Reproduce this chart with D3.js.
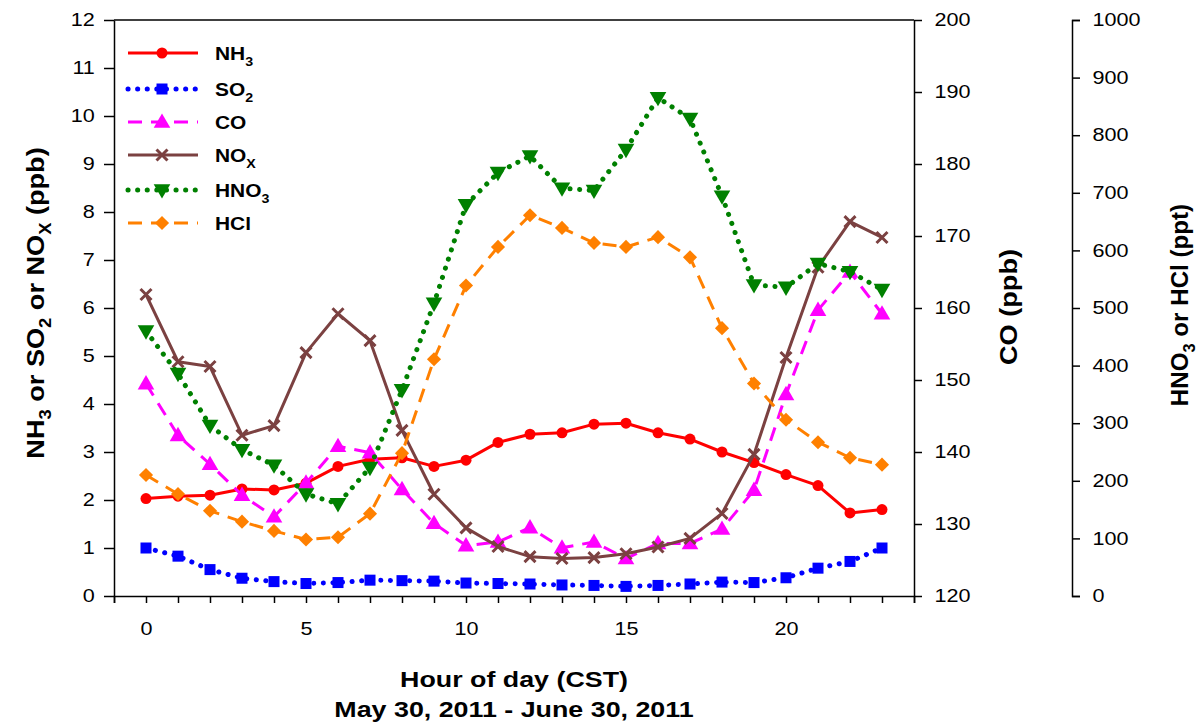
<!DOCTYPE html>
<html>
<head>
<meta charset="utf-8">
<script src="https://cdn.jsdelivr.net/npm/d3@7"></script>
<style>
  body { margin: 0; background: #fff; }
  svg { font-family: Arial, "Liberation Sans", sans-serif; }
  .axis text { font-size: 18px; fill: #000; }
  .axis path, .axis line { stroke: #000; stroke-width: 1.5px; }
</style>
</head>
<body>
<div id="chart"></div>
<script>
// data ---------------------------------------------------------------
var hours = d3.range(0, 24);
var nh3  = [2.03, 2.08, 2.10, 2.23, 2.21, 2.35, 2.70, 2.85, 2.88, 2.70, 2.83, 3.20, 3.37, 3.40, 3.58, 3.60, 3.40, 3.27, 3.00, 2.78, 2.53, 2.30, 1.73, 1.80];
var so2  = [1.00, 0.83, 0.55, 0.37, 0.30, 0.26, 0.28, 0.33, 0.32, 0.31, 0.27, 0.26, 0.25, 0.23, 0.22, 0.20, 0.22, 0.25, 0.29, 0.28, 0.38, 0.58, 0.72, 1.00];
var co   = [149.5, 142.3, 138.3, 134.0, 131.0, 135.7, 140.8, 139.9, 134.8, 130.1, 127.0, 127.5, 129.5, 126.7, 127.5, 125.2, 127.3, 127.3, 129.3, 134.7, 148.0, 159.7, 165.0, 159.2];
var nox  = [6.28, 4.88, 4.78, 3.35, 3.55, 5.07, 5.88, 5.32, 3.45, 2.12, 1.42, 1.03, 0.82, 0.78, 0.80, 0.88, 1.02, 1.20, 1.72, 2.95, 4.97, 6.85, 7.80, 7.47];
var hno3 = [460, 386, 296, 254, 227, 177, 160, 223, 358, 508, 679, 735, 764, 708, 704, 775, 865, 829, 694, 540, 536, 577, 563, 532];
var hcl  = [210, 177, 148, 129, 113, 98, 102, 143, 248, 411, 539, 606, 661, 639, 613, 606, 623, 588, 465, 369, 306, 267, 240, 228];

var xTickLabels = [0, 5, 10, 15, 20];
//---------------------------------------------------------------------

var W = 1201, H = 725;
var plot = { left: 114, right: 914, top: 20, bottom: 596 };
var axis3X = 1072;
var sx = 1.2; // the original's lettering is a bit wider than Arial

var x = d3.scaleLinear().domain([-1, 24]).range([plot.left, plot.right]);
var yL = d3.scaleLinear().domain([0, 12]).range([plot.bottom, plot.top]);
var yCO = d3.scaleLinear().domain([120, 200]).range([plot.bottom, plot.top]);
var yR = d3.scaleLinear().domain([0, 1000]).range([plot.bottom, plot.top]);

var series = [
  { name: [["NH", 0], ["3", 1]], vals: nh3, y: yL, color: "#ff0000", dash: null, width: 3, marker: "circle" },
  { name: [["SO", 0], ["2", 1]], vals: so2, y: yL, color: "#0000ff", dash: "0.1 9.5", width: 5, marker: "square" },
  { name: [["CO", 0]], vals: co, y: yCO, color: "#ff00ff", dash: "14 9", width: 3, marker: "triUp" },
  { name: [["NO", 0], ["X", 1]], vals: nox, y: yL, color: "#7b4141", dash: null, width: 3, marker: "x" },
  { name: [["HNO", 0], ["3", 1]], vals: hno3, y: yR, color: "#008000", dash: "0.1 9.5", width: 5, marker: "triDown" },
  { name: [["HCl", 0]], vals: hcl, y: yR, color: "#ff8000", dash: "14 9", width: 3, marker: "diamond" }
];

var svg = d3.select("#chart").append("svg")
  .attr("width", W).attr("height", H);

// writes text pieces with subscripts into a text element
var writeParts = function(textSel, parts, size) {
  parts.forEach(function(p, i) {
    var t = textSel.append("tspan").text(p[0]);
    if (p[1]) {
      t.attr("font-size", size * 0.68).attr("dy", size * 0.3);
    } else if (i > 0 && parts[i - 1][1]) {
      t.attr("dy", -size * 0.3);
    }
  });
};

var drawMarker = function(g, kind, cx, cy, color) {
  if (kind === "circle") {
    g.append("circle").attr("cx", cx).attr("cy", cy).attr("r", 5.5).attr("fill", color);
  } else if (kind === "square") {
    g.append("rect").attr("x", cx - 5.5).attr("y", cy - 5.5).attr("width", 11).attr("height", 11).attr("fill", color);
  } else if (kind === "triUp") {
    g.append("path").attr("d", d3.symbol().type(d3.symbolTriangle).size(120)())
      .attr("transform", "translate(" + cx + "," + (cy + 1) + ")").attr("fill", color);
  } else if (kind === "triDown") {
    g.append("path").attr("d", d3.symbol().type(d3.symbolTriangle).size(120)())
      .attr("transform", "translate(" + cx + "," + (cy - 1) + ") rotate(180)").attr("fill", color);
  } else if (kind === "diamond") {
    g.append("path").attr("d", d3.symbol().type(d3.symbolSquare).size(100)())
      .attr("transform", "translate(" + cx + "," + cy + ") rotate(45)").attr("fill", color);
  } else if (kind === "x") {
    var s = 5.5;
    g.append("path")
      .attr("d", "M" + (cx - s) + "," + (cy - s) + "L" + (cx + s) + "," + (cy + s) +
                 "M" + (cx - s) + "," + (cy + s) + "L" + (cx + s) + "," + (cy - s))
      .attr("stroke", color).attr("stroke-width", 3).attr("fill", "none");
  }
};

// frame (top line)
svg.append("line")
  .attr("x1", plot.left).attr("x2", plot.right)
  .attr("y1", plot.top).attr("y2", plot.top)
  .attr("stroke", "#000").attr("stroke-width", 1.5);

// axes
var xAxis = d3.axisBottom(x).tickValues(d3.range(-1, 25)).tickSizeOuter(0).tickSize(7).tickPadding(19)
  .tickFormat(function(d) { return xTickLabels.indexOf(d) >= 0 ? d : ""; });
svg.append("g").attr("class", "axis")
  .attr("transform", "translate(0," + plot.bottom + ")")
  .call(xAxis);

svg.append("g").attr("class", "axis")
  .attr("transform", "translate(" + plot.left + ",0)")
  .call(d3.axisLeft(yL).ticks(12).tickSize(10).tickSizeOuter(0).tickPadding(6));

svg.append("g").attr("class", "axis")
  .attr("transform", "translate(" + plot.right + ",0)")
  .call(d3.axisRight(yCO).ticks(8).tickSize(8).tickSizeOuter(0).tickPadding(9));

svg.append("g").attr("class", "axis")
  .attr("transform", "translate(" + axis3X + ",0)")
  .call(d3.axisRight(yR).ticks(10).tickFormat(d3.format("d")).tickSize(8).tickSizeOuter(8).tickPadding(9));

// stretch tick labels sideways
svg.selectAll(".axis .tick text").attr("transform", "scale(" + sx + ",1)");

// lines and markers
var lineG = svg.append("g");
series.forEach(function(s) {
  var line = d3.line()
    .x(function(d, i) { return x(hours[i]); })
    .y(function(d) { return s.y(d); });
  lineG.append("path")
    .datum(s.vals)
    .attr("d", line)
    .attr("fill", "none")
    .attr("stroke", s.color)
    .attr("stroke-width", s.width)
    .attr("stroke-linejoin", "round")
    .attr("stroke-linecap", s.dash && s.width > 4 ? "round" : "butt")
    .attr("stroke-dasharray", s.dash);
  var mg = lineG.append("g");
  s.vals.forEach(function(v, i) {
    drawMarker(mg, s.marker, x(hours[i]), s.y(v), s.color);
  });
});

// legend
var legendY = [53, 89, 122, 155, 190, 223];
var legend = svg.append("g");
series.forEach(function(s, i) {
  var ly = legendY[i];
  legend.append("line")
    .attr("x1", 128).attr("x2", 198).attr("y1", ly).attr("y2", ly)
    .attr("stroke", s.color).attr("stroke-width", s.width)
    .attr("stroke-linecap", s.dash && s.width > 4 ? "round" : "butt")
    .attr("stroke-dasharray", s.dash);
  drawMarker(legend, s.marker, 162, ly, s.color);
  var t = legend.append("text")
    .attr("transform", "translate(215," + (ly + 7) + ") scale(1.1,1)")
    .attr("font-size", 19).attr("font-weight", "bold");
  writeParts(t, s.name, 19);
});

// axis titles
var t1 = svg.append("text")
  .attr("transform", "translate(44,303) rotate(-90) scale(1.13,1)")
  .attr("text-anchor", "middle").attr("font-size", 24).attr("font-weight", "bold");
writeParts(t1, [["NH", 0], ["3", 1], [" or SO", 0], ["2", 1], [" or NO", 0], ["X", 1], [" (ppb)", 0]], 24);

svg.append("text")
  .attr("transform", "translate(1017,307) rotate(-90) scale(1.13,1)")
  .attr("text-anchor", "middle").attr("font-size", 24).attr("font-weight", "bold")
  .text("CO (ppb)");

var t3 = svg.append("text")
  .attr("transform", "translate(1188,305) rotate(-90) scale(1.05,1)")
  .attr("text-anchor", "middle").attr("font-size", 23).attr("font-weight", "bold");
writeParts(t3, [["HNO", 0], ["3", 1], [" or HCl (ppt)", 0]], 23);

svg.append("text")
  .attr("transform", "translate(514,687) scale(1.22,1)")
  .attr("text-anchor", "middle").attr("font-size", 22).attr("font-weight", "bold")
  .text("Hour of day (CST)");
svg.append("text")
  .attr("transform", "translate(514,717) scale(1.22,1)")
  .attr("text-anchor", "middle").attr("font-size", 22).attr("font-weight", "bold")
  .text("May 30, 2011 - June 30, 2011");
</script>
</body>
</html>
